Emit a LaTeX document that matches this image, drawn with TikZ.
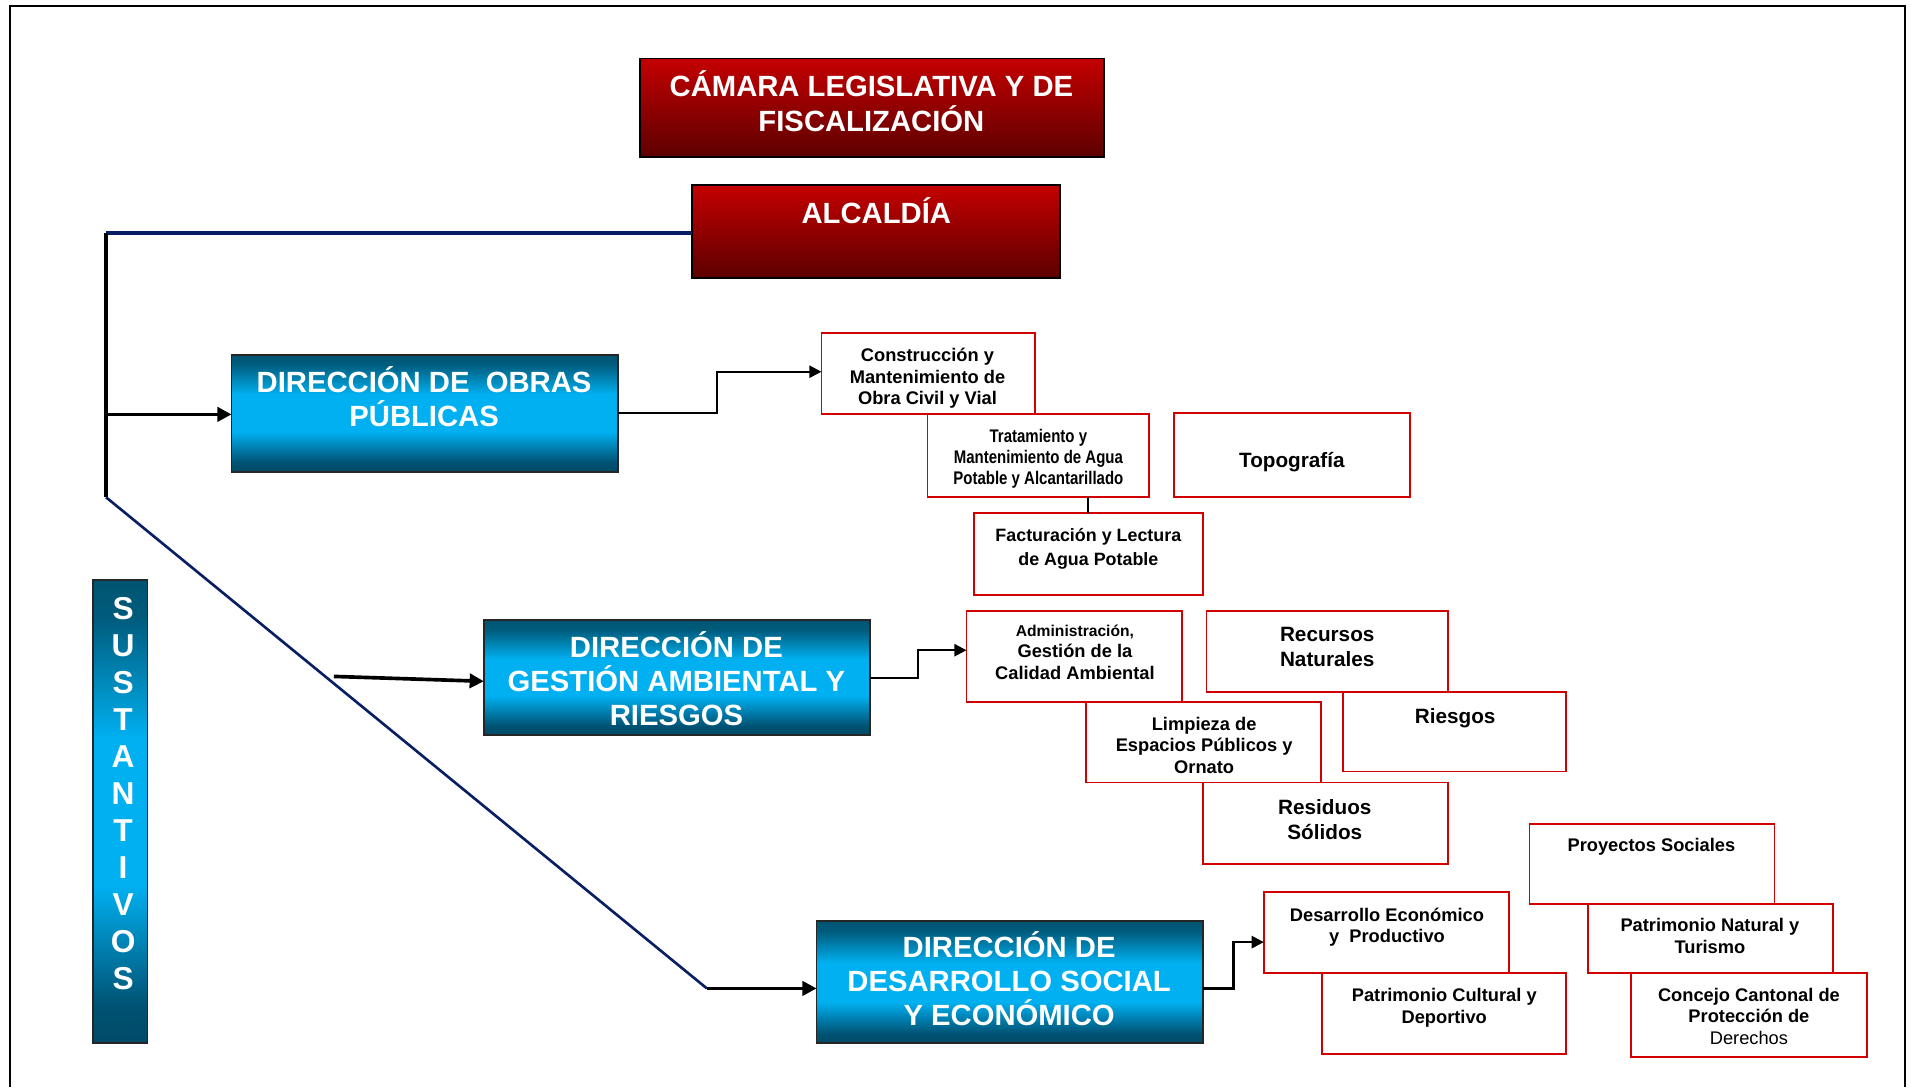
\documentclass[tikz,border=0pt]{standalone}
\usepackage{fontspec}
\setmainfont{Liberation Sans}
\newfontfamily\narrowsans[FakeStretch=0.82]{Liberation Sans}
\usetikzlibrary{arrows.meta,calc}

\definecolor{redtop}{RGB}{196,0,0}
\definecolor{redbot}{RGB}{92,0,0}
\definecolor{bluetop}{RGB}{0,84,114}
\definecolor{bluemid}{RGB}{0,176,240}
\definecolor{bluebot}{RGB}{0,74,104}
\definecolor{unitred}{RGB}{210,0,0}
\definecolor{navy}{RGB}{10,30,100}

% dark edges with a wide bright band in the middle (path spans 25bp..75bp)
\pgfdeclareverticalshading{blueband}{100bp}{%
  color(0bp)=(bluebot); color(25bp)=(bluebot); color(29bp)=(bluebot!92!bluemid);
  color(42bp)=(bluemid); color(58bp)=(bluemid);
  color(71bp)=(bluetop!92!bluemid); color(75bp)=(bluetop); color(100bp)=(bluetop)}

% box from corner (x1,y1) to corner (x2,y2), in pixel units
\newcommand\cajon[6]{\node[#1, minimum width={(#5-#3)*0.6pt}, minimum height={(#6-#4)*0.6pt}] (#2) at ({(#3+#5)/2},{(#4+#6)/2}) {};}

\tikzset{
  redhead/.style={draw=black, line width=0.9pt, top color=redtop, bottom color=redbot, inner sep=0pt, outer sep=0pt},
  bluehead/.style={draw=black!85, line width=0.9pt, shading=blueband, inner sep=0pt, outer sep=0pt},
  unitbox/.style={draw=unitred, line width=0.9pt, fill=white, inner sep=0pt, outer sep=0pt},
  headtxt/.style={text=white, font=\bfseries\fontsize{14.4}{16.8}\selectfont, align=center, inner sep=0pt},
  unittxt/.style={text=black, font=\bfseries\fontsize{9}{10.5}\selectfont, align=center, inner sep=0pt},
  bigtxt/.style={text=black, font=\bfseries\fontsize{10.2}{12.3}\selectfont, align=center, inner sep=0pt},
  feed/.style={draw=black, line width=1.8pt, -{Triangle[length=7pt,width=7pt]}},
  link/.style={draw=black, line width=1.1pt, -{Triangle[length=6pt,width=6pt]}},
  trunk/.style={draw=navy, line width=1.8pt},
  slant/.style={draw=navy, line width=1.3pt},
}

\begin{document}
\begin{tikzpicture}[x=0.6pt,y=-0.6pt]
\useasboundingbox (0,0) rectangle (1568,892);
\fill[white] (0,0) rectangle (1568,892);

% page frame
\draw[black, line width=1pt] (8,892) -- (8,5) -- (1563,5) -- (1563,892);

% top authorities
\cajon{redhead}{cam}{525}{48}{906}{129}
\node[headtxt] (cam-t) at (715,83) {CÁMARA LEGISLATIVA Y DE\\FISCALIZACIÓN};
\cajon{redhead}{alc}{568}{152}{870}{228}
\node[headtxt] (alc-t) at (719,173) {ALCALDÍA};

% vertical label
\cajon{bluehead}{sus}{76}{476}{121}{856}
\node[headtxt, font=\bfseries\fontsize{15.6}{18.24}\selectfont] (sus-t) at (101,651) {S\\U\\S\\T\\A\\N\\T\\I\\V\\O\\S};

% directorates
\cajon{bluehead}{dop}{190}{291}{507}{387}
\node[headtxt] (dop-t) at (348,325.5) {DIRECCIÓN DE\ \ OBRAS\\PÚBLICAS};
\cajon{bluehead}{dga}{397}{509}{714}{603}
\node[headtxt] (dga-t) at (555,557) {DIRECCIÓN DE\\GESTIÓN AMBIENTAL Y\\RIESGOS};
\cajon{bluehead}{dds}{670}{756}{987}{856}
\node[headtxt] (dds-t) at (828,803) {DIRECCIÓN DE\\DESARROLLO SOCIAL\\Y ECONÓMICO};

% units of public works
\cajon{unitbox}{con}{674}{273}{849}{340}
\node[unittxt] (con-t) at (761,310.5) {Construcción y\\Mantenimiento de\\Obra Civil y Vial};
\cajon{unitbox}{tra}{761}{340}{943}{408}
\node[unittxt, font=\narrowsans\bfseries\fontsize{9}{10.5}\selectfont] (tra-t) at (852,376.5) {Tratamiento y\\Mantenimiento de Agua\\Potable y Alcantarillado};
\cajon{unitbox}{topo}{963}{339}{1157}{408}
\node[bigtxt] (topo-t) at (1060,379) {Topografía};
\cajon{unitbox}{fac}{799}{421}{987}{488}
\node[unittxt, font=\bfseries\fontsize{8.8}{11.6}\selectfont] (fac-t) at (893,450.5) {Facturación y Lectura\\de Agua Potable};

% units of environment and risks
\cajon{unitbox}{adm}{793}{501}{970}{576}
\node[unittxt] (adm-t) at (882,535) {{\fontsize{7.7}{10.2}\selectfont Administración,}\\Gestión de la\\Calidad Ambiental};
\cajon{unitbox}{rec}{990}{501}{1188}{568}
\cajon{unitbox}{rie}{1102}{568}{1285}{633}
\node[bigtxt] (rec-t) at (1089,531) {Recursos\\Naturales};
\node[bigtxt] (rie-t) at (1194,589) {Riesgos};
\cajon{unitbox}{lim}{891}{576}{1084}{642}
\node[unittxt] (lim-t) at (988,611.5) {Limpieza de\\Espacios Públicos y\\Ornato};
\cajon{unitbox}{res}{987}{642}{1188}{709}
\node[bigtxt] (res-t) at (1087,672.5) {Residuos\\Sólidos};

% units of social and economic development
\cajon{unitbox}{pro}{1255}{676}{1456}{742}
\node[unittxt] (pro-t) at (1355,695) {Proyectos Sociales};
\cajon{unitbox}{pna}{1303}{742}{1504}{798}
\node[unittxt] (pna-t) at (1403,768) {Patrimonio Natural y\\Turismo};
\cajon{unitbox}{deco}{1037}{732}{1238}{798}
\node[unittxt] (deco-t) at (1138,761) {Desarrollo Económico\\y\ \ Productivo};
\cajon{unitbox}{pcu}{1085}{798}{1285}{865}
\node[unittxt] (pcu-t) at (1185,827) {Patrimonio Cultural y\\Deportivo};
\cajon{unitbox}{cca}{1338}{798}{1532}{867}
\node[unittxt] (cca-t) at (1435,834) {Concejo Cantonal de\\Protección de\\{\mdseries Derechos}};

% trunk from the mayor's office
\coordinate (jA) at (87,191);
\coordinate (jO) at (87,340);
\coordinate (jB) at (87,408);
\coordinate (jC) at (580,811);
\coordinate (jG) at (274,555);
\draw[trunk] (alc.west |- jA) -- (jA);
\draw[black, line width=1.8pt] (jA) -- (jB);
\draw[slant] (jB) -- (jC);
\draw[feed] (jO) -- (dop.west |- jO);
\draw[feed] (jG) -- ([yshift=-1.8pt]dga.west);
\draw[feed] (jC) -- (dds.west |- jC);

% links to the units
\draw[link] (dop.east) -- ++(81,0) |- ([yshift=0.9pt]con.west);
\draw[link] (dga.east) -- ++(39,0) |- ([yshift=3pt]adm.west);
\draw[link] ([yshift=-3pt]dds.east) -- ++(25,0) |- ([yshift=-4.8pt]deco.west);
\draw[black, line width=0.9pt] (fac.north) -- (fac.north |- tra.south);
\end{tikzpicture}
\end{document}
